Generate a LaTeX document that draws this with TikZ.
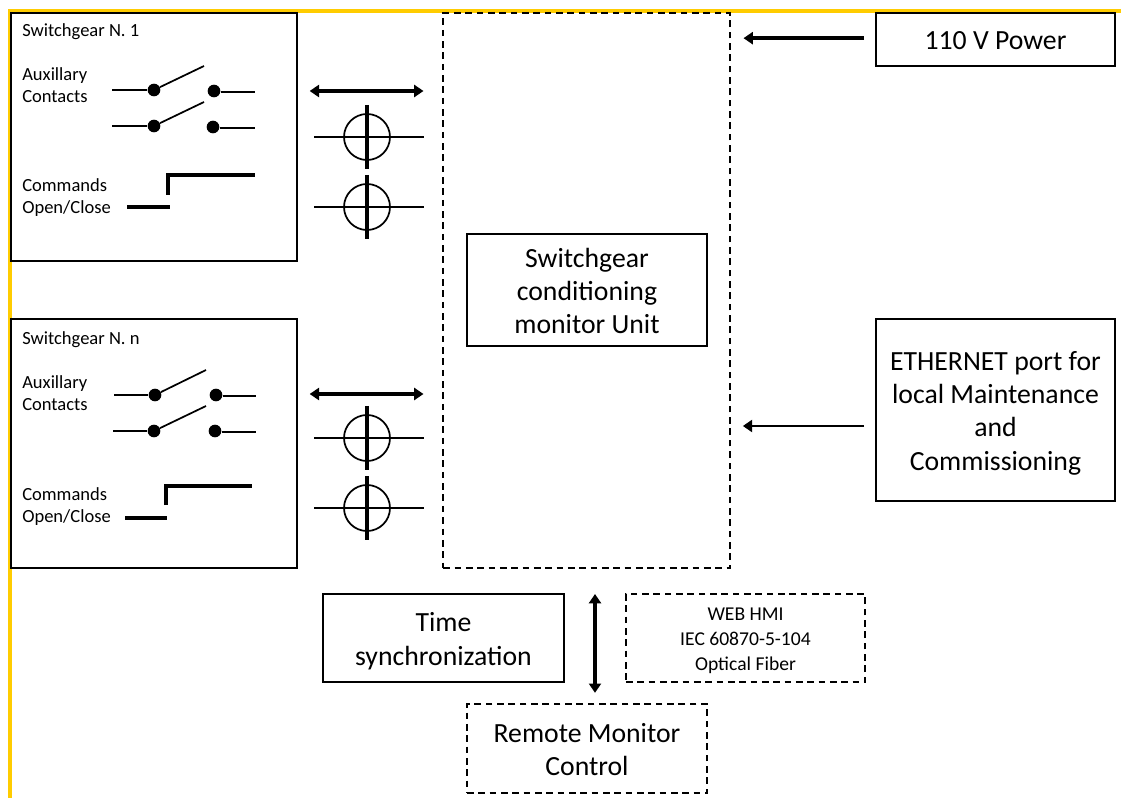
\documentclass[tikz,border=0pt]{standalone}
\usepackage{fontspec}
\setmainfont{Carlito}
\usetikzlibrary{arrows.meta,positioning,calc}
\definecolor{frameYellow}{HTML}{FFCC00}
\newcommand{\lowerby}[1]{\rule{0pt}{#1}}

\begin{document}
\begin{tikzpicture}[x=0.75pt,y=-0.75pt,
  solidbox/.style={draw,line width=1.5pt,align=center,inner sep=0pt,font=\fontsize{20.8}{25}\selectfont},
  dashbox/.style={solidbox,dashed,dash pattern=on 5pt off 3.5pt},
  smalltext/.style={anchor=base west,inner sep=0pt,font=\fontsize{13.9}{16}\selectfont},
  dot/.style={circle,fill=black,inner sep=0pt,minimum size=9.5pt},
  lead/.style={line width=1.3pt},
  stepline/.style={line width=2.8pt},
  bigarrow/.style={line width=2.8pt,{Triangle[length=7pt,width=9pt]}-{Triangle[length=7pt,width=9pt]}},
  inarrow/.style={line width=3pt,-{Triangle[length=7pt,width=9pt]}}]
  \useasboundingbox (0,0) rectangle (1121,798);
  % yellow frame
  \draw[frameYellow,line width=3pt] (9.5,798) -- (9.5,11.5) -- (1121,11.5);

  % boxes
  \node[solidbox,fill=white,minimum width=214.5pt,minimum height=186pt] (sw1) at (154,137) {};
  \node[solidbox,fill=white,minimum width=214.5pt,minimum height=186.5pt] (swn) at (154,443.5) {};
  \node[dashbox,fill=white,minimum width=215pt,minimum height=416pt] (unit) at (586.5,290.5) {};
  \node[solidbox,minimum width=180pt,minimum height=84pt] (label) at (587,290) {\lowerby{16pt}Switchgear\\conditioning\\monitor Unit};
  \node[solidbox,fill=white,minimum width=179.5pt,minimum height=40pt] (power) at (995.5,39.5) {\lowerby{14.5pt}110 V Power};
  \node[solidbox,minimum width=179.5pt,minimum height=136.5pt] (eth) at (995.5,410) {\lowerby{19pt}ETHERNET port for\\local Maintenance\\and\\Commissioning};
  \node[solidbox,minimum width=181pt,minimum height=66pt] (time) at (443.5,638) {\lowerby{19pt}Time\\synchronization};
  \node[dashbox,minimum width=179.5pt,minimum height=66pt,font=\fontsize{14.7}{19}\selectfont] (web) at (745.5,638) {\lowerby{13.5pt}WEB HMI\\IEC 60870-5-104\\Optical Fiber};
  \node[dashbox,minimum width=180pt,minimum height=67pt] (remote) at (587,748.5) {\lowerby{15.5pt}Remote Monitor\\Control};

  % panel texts
  \node[smalltext] (name1) at (22,36.5) {Switchgear N. 1};
  \node[smalltext] (aux1) at (22,81) {Auxillary};
  \node[smalltext] (con1) at (22,102.5) {Contacts};
  \node[smalltext] (cmd1) at (22,191.5) {Commands};
  \node[smalltext] (opn1) at (22,213.5) {Open/Close};
  \node[smalltext] (namen) at (22,344.5) {Switchgear N. n};
  \node[smalltext] (auxn) at (22,389) {Auxillary};
  \node[smalltext] (conn) at (22,411) {Contacts};
  \node[smalltext] (cmdn) at (22,500) {Commands};
  \node[smalltext] (opnn) at (22,522) {Open/Close};

  % contacts
  \foreach \nm/\xa/\ya/\xb/\yb/\xl/\xt/\yt/\xr in {
      p/154/90/214/91/112/204/66/255,
      q/154/126/213/127/112/204/102/255,
      r/155/395/216/395/114/206/370/256,
      s/154/431/215/431/113/206/406/256}{
    \node[dot] (\nm a) at (\xa,\ya) {};
    \node[dot] (\nm b) at (\xb,\yb) {};
    \coordinate (\nm in) at (\xl,\ya);
    \coordinate (\nm tip) at (\xt,\yt);
    \coordinate (\nm out) at (\xr,\yb+1);
    \draw[lead] (\nm in) -- (\nm a);
    \draw[lead] (\nm a) -- (\nm tip);
    \draw[lead] (\nm b.east |- \nm out) -- (\nm out);
  }

  % command steps
  \draw[stepline] (127,207) -- (170,207);
  \draw[stepline] (168,195) -- (168,175) -- (255,175);
  \draw[stepline] (125,518) -- (167,518);
  \draw[stepline] (166,505) -- (166,486) -- (252,486);

  % signal crossings
  \foreach \yc in {137,207,438,508}{
    \draw[line width=1.3pt] (367,\yc) circle (23);
    \draw[lead] (314,\yc) -- (424,\yc);
    \draw[line width=2.6pt] (367,\yc-32) -- (367,\yc+32);
  }

  % connectors
  \coordinate (link1) at (297,91);
  \coordinate (linkn) at (297,394);
  \coordinate (bustop) at (595,568);
  \draw[bigarrow,shorten <=9.5pt,shorten >=14pt] (link1) -- (link1 -| unit.west);
  \draw[bigarrow,shorten <=9.5pt,shorten >=14pt] (linkn) -- (linkn -| unit.west);
  \draw[inarrow,shorten <=8pt,shorten >=9.5pt] ([yshift=1pt]power.west) -- ([yshift=1pt]power.west -| unit.east);
  \draw[inarrow,line width=2.2pt,shorten <=8pt,shorten >=9pt] ([yshift=-12pt]eth.west) -- ([yshift=-12pt]eth.west -| unit.east);
  \draw[bigarrow,shorten <=19.5pt,shorten >=7.5pt] (bustop) -- (bustop |- remote.north);
\end{tikzpicture}
\end{document}
